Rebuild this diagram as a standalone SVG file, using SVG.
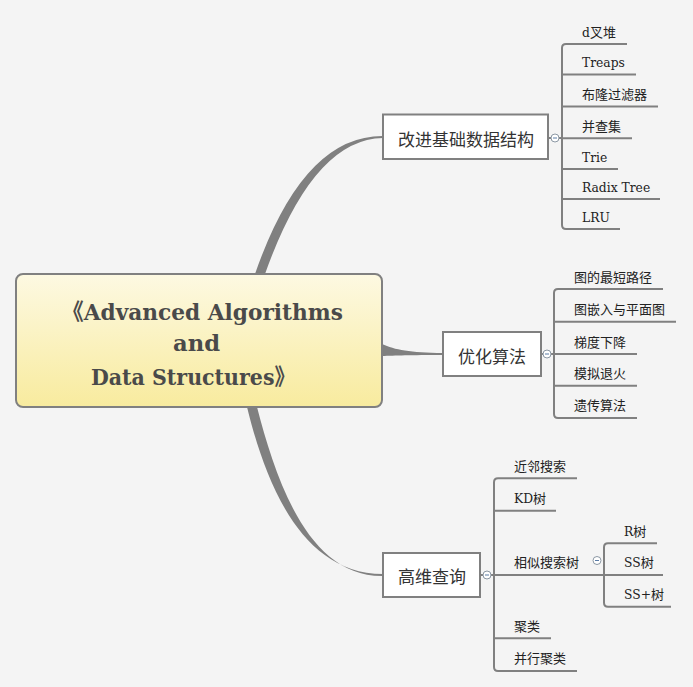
<svg xmlns="http://www.w3.org/2000/svg" width="693" height="687" viewBox="0 0 693 687">
<defs>
<linearGradient id="cg" x1="0" y1="0" x2="0" y2="1">
<stop offset="0" stop-color="#fdf9e2"/>
<stop offset="1" stop-color="#f8eb9e"/>
</linearGradient>
<style>
.tap{fill:#808080;stroke:none}
.ln{fill:none;stroke:#808080;stroke-width:2}
.box{fill:#ffffff;stroke:#808080;stroke-width:2}
.bt{font-family:"Noto Sans CJK SC","Liberation Sans",sans-serif;font-size:17px;fill:#333333;text-anchor:middle}
.st{font-family:"DejaVu Serif","Noto Sans CJK SC",serif;font-size:13px;fill:#222222}
.la{font-size:12.3px}
.tt{font-family:"DejaVu Serif","Noto Sans CJK SC",serif;font-size:23px;font-weight:bold;fill:#4a4a4a}
.cc{fill:#ffffff;stroke:#8c98a4;stroke-width:1}
.cm{stroke:#5a7ca6;stroke-width:1}
</style>
</defs>
<rect width="693" height="687" fill="#f4f4f4"/>
<g id="connectors">
<path class="tap" d="M255,274 Q303,135.5 383,136 L383,138 Q313,139 265,274 Z"/>
<path class="tap" d="M382,344 C395,350 410,352.5 443,353 L443,355 C410,355 395,355.5 382,356 Z"/>
<path class="tap" d="M247,407 C265,480 300,574 383,574 L383,576 C308,577 276,480 257,407 Z"/>
<line class="ln" x1="548" y1="138" x2="562" y2="138"/>
<path class="ln" d="M627,44 L566,44 Q562,44 562,48 L562,225 Q562,229 566,229 L620,229"/>
<line class="ln" x1="562" y1="74.5" x2="636" y2="74.5"/>
<line class="ln" x1="562" y1="106.5" x2="658" y2="106.5"/>
<line class="ln" x1="562" y1="138.3" x2="632" y2="138.3"/>
<line class="ln" x1="562" y1="169" x2="618" y2="169"/>
<line class="ln" x1="562" y1="199" x2="660" y2="199"/>
<line class="ln" x1="541" y1="354" x2="554" y2="354"/>
<path class="ln" d="M663,289 L558,289 Q554,289 554,293 L554,414 Q554,418 558,418 L637,418"/>
<line class="ln" x1="554" y1="321.7" x2="676" y2="321.7"/>
<line class="ln" x1="554" y1="354" x2="637" y2="354"/>
<line class="ln" x1="554" y1="385.7" x2="637" y2="385.7"/>
<line class="ln" x1="480" y1="575" x2="494" y2="575"/>
<path class="ln" d="M577,478.3 L498,478.3 Q494,478.3 494,482.3 L494,667 Q494,671 498,671 L577,671"/>
<line class="ln" x1="494" y1="510.7" x2="556" y2="510.7"/>
<line class="ln" x1="494" y1="575" x2="663" y2="575"/>
<line class="ln" x1="494" y1="638.3" x2="551" y2="638.3"/>
<path class="ln" d="M657,543.3 L608,543.3 Q604,543.3 604,547.3 L604,602.7 Q604,606.7 608,606.7 L671,606.7"/>
</g>
<g id="root">
<rect x="16" y="274" width="366" height="133" rx="7" fill="url(#cg)" stroke="#808080" stroke-width="2"/>
<text class="tt" x="62" y="320" textLength="281" lengthAdjust="spacingAndGlyphs">《Advanced Algorithms</text>
<text class="tt" x="173" y="351" textLength="47" lengthAdjust="spacingAndGlyphs">and</text>
<text class="tt" x="91" y="385" textLength="204" lengthAdjust="spacingAndGlyphs">Data Structures》</text>
</g>
<g id="n-improve">
<rect class="box" x="383" y="114.5" width="165" height="44.5"/>
<text class="bt" x="466" y="146">改进基础数据结构</text>
<circle class="cc" cx="555" cy="138" r="4"/><line class="cm" x1="553" y1="138" x2="557" y2="138"/>
</g>
<g id="n-dheap"><text class="st" x="582" y="37"><tspan class="la">d</tspan>叉堆</text></g>
<g id="n-treaps"><text class="st la" x="582" y="67">Treaps</text></g>
<g id="n-bloom"><text class="st" x="582" y="99">布隆过滤器</text></g>
<g id="n-uf"><text class="st" x="582" y="130.5">并查集</text></g>
<g id="n-trie"><text class="st la" x="582" y="161.5">Trie</text></g>
<g id="n-radix"><text class="st la" x="582" y="191.5">Radix Tree</text></g>
<g id="n-lru"><text class="st la" x="582" y="221.5">LRU</text></g>
<g id="n-opt">
<rect class="box" x="443" y="332" width="98" height="44"/>
<text class="bt" x="492" y="363">优化算法</text>
<circle class="cc" cx="547" cy="354" r="4"/><line class="cm" x1="545" y1="354" x2="549" y2="354"/>
</g>
<g id="n-sp"><text class="st" x="574" y="281.5">图的最短路径</text></g>
<g id="n-emb"><text class="st" x="574" y="314">图嵌入与平面图</text></g>
<g id="n-gd"><text class="st" x="574" y="346.5">梯度下降</text></g>
<g id="n-sa"><text class="st" x="574" y="378">模拟退火</text></g>
<g id="n-ga"><text class="st" x="574" y="410">遗传算法</text></g>
<g id="n-hd">
<rect class="box" x="383" y="553" width="97" height="44"/>
<text class="bt" x="432" y="583">高维查询</text>
<circle class="cc" cx="487" cy="575" r="4"/><line class="cm" x1="485" y1="575" x2="489" y2="575"/>
</g>
<g id="n-nn"><text class="st" x="514" y="471">近邻搜索</text></g>
<g id="n-kd"><text class="st" x="514" y="503"><tspan class="la">KD</tspan>树</text></g>
<g id="n-sst">
<text class="st" x="514" y="567">相似搜索树</text>
<circle class="cc" cx="597" cy="560.5" r="4"/><line class="cm" x1="595" y1="560.5" x2="599" y2="560.5"/>
</g>
<g id="n-r"><text class="st" x="624" y="535.5"><tspan class="la">R</tspan>树</text></g>
<g id="n-ss"><text class="st" x="624" y="567"><tspan class="la">SS</tspan>树</text></g>
<g id="n-ssp"><text class="st" x="624" y="599"><tspan class="la">SS+</tspan>树</text></g>
<g id="n-cl"><text class="st" x="514" y="630.5">聚类</text></g>
<g id="n-pcl"><text class="st" x="514" y="663">并行聚类</text></g>
</svg>
